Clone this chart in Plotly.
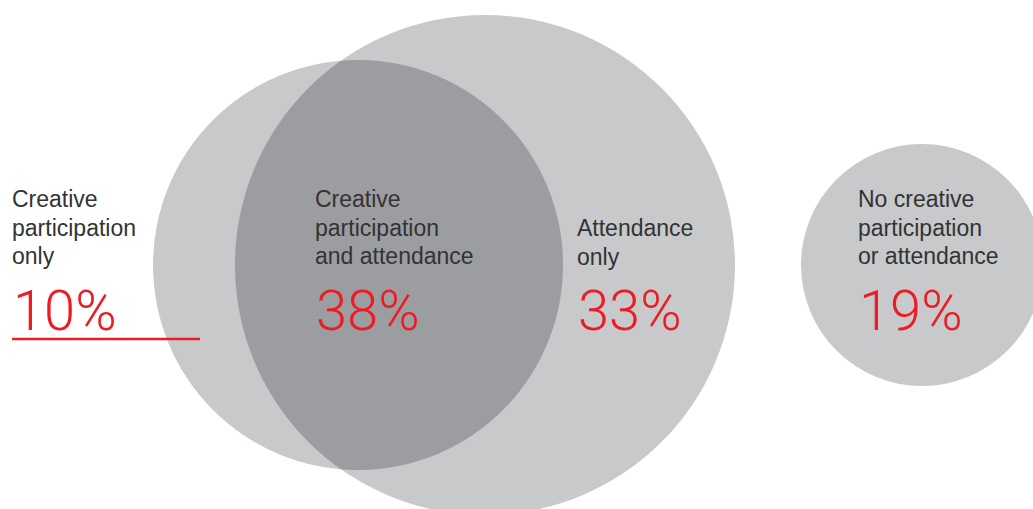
import numpy as np
import plotly.graph_objects as go

# Shares of the population by engagement group
groups = [
    ["Creative", "participation", "only"],
    ["Creative", "participation", "and attendance"],
    ["Attendance", "only"],
    ["No creative", "participation", "or attendance"],
]
shares = [10, 38, 33, 19]

# Layout geometry (pixel space, y grows downward)
W, H = 1033, 509
circ_a = (358, 265, 205)   # creative participation
circ_b = (485, 265, 250)   # attendance
circ_c = (922, 265, 121)   # neither

LIGHT = "#c8c9cb"
DARK = "#9c9da0"
RED = "#ed1c24"
INK = "#333333"

label_x = [12, 315, 577, 858]
label_top = [199, 199, 228, 199]
line_step = 28.5
pct_y = [311, 311, 311, 311]


def lens_points(c1, c2):
    # outline of the overlap: points of each circle lying inside the other
    x1, y1, r1 = c1
    x2, y2, r2 = c2
    t = np.linspace(0, 2 * np.pi, 2000, endpoint=False)
    pa = np.c_[x1 + r1 * np.cos(t), y1 + r1 * np.sin(t)]
    pb = np.c_[x2 + r2 * np.cos(t), y2 + r2 * np.sin(t)]
    ina = pa[np.hypot(pa[:, 0] - x2, pa[:, 1] - y2) <= r2]
    inb = pb[np.hypot(pb[:, 0] - x1, pb[:, 1] - y1) <= r1]
    pts = np.vstack([ina, inb])
    cx, cy = pts.mean(axis=0)
    ang = np.arctan2(pts[:, 1] - cy, pts[:, 0] - cx)
    return pts[np.argsort(ang)]


fig = go.Figure()

shapes = []
for (cx, cy, r) in (circ_a, circ_b, circ_c):
    shapes.append(dict(type="circle", xref="x", yref="y",
                       x0=cx - r, x1=cx + r, y0=cy - r, y1=cy + r,
                       fillcolor=LIGHT, line=dict(width=0), layer="below"))

lp = lens_points(circ_a, circ_b)
path = "M " + " L ".join(f"{x:.2f},{y:.2f}" for x, y in lp) + " Z"
shapes.append(dict(type="path", xref="x", yref="y", path=path,
                   fillcolor=DARK, line=dict(width=0), layer="below"))

# red rule under the first share
shapes.append(dict(type="line", xref="x", yref="y", x0=12, x1=200, y0=339, y1=339,
                   line=dict(color=RED, width=2.5)))

annotations = []
for lines, x, y0 in zip(groups, label_x, label_top):
    for i, txt in enumerate(lines):
        annotations.append(dict(x=x - 2, y=y0 + i * line_step, xref="x", yref="y",
                                text=txt, showarrow=False, xanchor="left", yanchor="middle",
                                font=dict(family="Liberation Sans, Arial, sans-serif",
                                          size=23, color=INK)))
for v, x, y in zip(shares, label_x, pct_y):
    annotations.append(dict(x=x - 1, y=y, xref="x", yref="y",
                            text=f"{v}%", showarrow=False, xanchor="left", yanchor="middle",
                            font=dict(family="Roboto", weight=300, size=56, color=RED)))

fig.add_trace(go.Scatter(x=[0, W], y=[0, H], mode="markers",
                         marker=dict(opacity=0), hoverinfo="skip", showlegend=False))

fig.update_layout(
    width=W, height=H,
    margin=dict(l=0, r=0, t=0, b=0),
    paper_bgcolor="white", plot_bgcolor="white",
    xaxis=dict(range=[0, W], visible=False, fixedrange=True),
    yaxis=dict(range=[H, 0], visible=False, fixedrange=True),
    shapes=shapes, annotations=annotations,
    showlegend=False,
)

fig.write_html("out.html")
